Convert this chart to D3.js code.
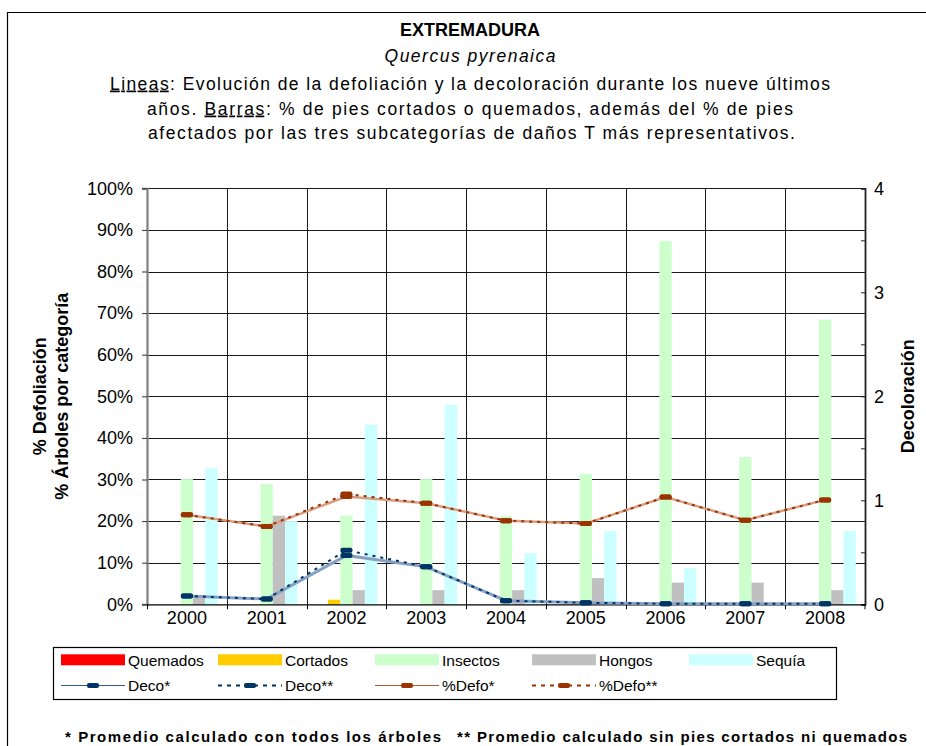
<!DOCTYPE html>
<html lang="es">
<head>
<meta charset="UTF-8">
<title>Extremadura - Quercus pyrenaica</title>
<style>
    body { margin: 0; background: #fff; }
    svg { font-family: "Liberation Sans", Arial, sans-serif; }
    .grid line { stroke: #1a1a1a; stroke-width: 1px; shape-rendering: crispEdges; }
    .axis text { font-size: 18px; fill: #000; }
    .legend text { font-size: 15.5px; fill: #000; }
</style>
</head>
<body>
<div id="chart"></div>
<script src="https://d3js.org/d3.v7.min.js"></script>
<script>
    "use strict";

    // years on the category axis
    var years = ["2000", "2001", "2002", "2003", "2004", "2005", "2006", "2007", "2008"];

    // bars (% of trees), left axis
    var seriesNames = ["Quemados", "Cortados", "Insectos", "Hongos", "Sequía"];
    var quemados = [0, 0, 0, 0, 0, 0, 0, 0, 0];
    var cortados = [0, 0, 1.1, 0, 0, 0, 0, 0, 0];
    var insectos = [30.1, 28.9, 21.3, 30.1, 21.2, 31.3, 87.3, 35.4, 68.4];
    var hongos = [2.2, 21.3, 3.4, 3.4, 3.4, 6.3, 5.2, 5.2, 3.4];
    var sequia = [32.8, 20.0, 43.2, 48.0, 12.3, 17.6, 8.7, 0, 17.6];

    // lines: defoliation (left axis, %) and decoloration (right axis, 0-4)
    var defo1 = [21.5, 18.7, 25.9, 24.3, 20.1, 19.4, 25.8, 20.2, 25.1];
    var defo2 = [21.5, 18.7, 26.5, 24.3, 20.1, 19.4, 25.8, 20.2, 25.1];
    var deco1 = [0.08, 0.05, 0.47, 0.36, 0.035, 0.015, 0.005, 0.005, 0.005];
    var deco2 = [0.08, 0.05, 0.52, 0.36, 0.035, 0.015, 0.005, 0.005, 0.005];

    var leftTicks = [0, 10, 20, 30, 40, 50, 60, 70, 80, 90, 100];
    var rightTicks = [0, 0.5, 1, 1.5, 2, 2.5, 3, 3.5, 4];

    var barValues = [quemados, cortados, insectos, hongos, sequia];
    var barColors = ["#ff0000", "#ffcc00", "#ccffcc", "#c0c0c0", "#ccffff"];

    var W = 926, H = 746;
    var pLeft = 147, pRight = 865, pTop = 188.3, pBottom = 604.3;

    var svg = d3.select("#chart").append("svg")
        .attr("width", W)
        .attr("height", H);

    // outer frame (only left and top edges are inside the picture)
    svg.append("path")
        .attr("d", "M7.5," + H + "V12.5H" + W)
        .attr("fill", "none")
        .attr("stroke", "#000")
        .attr("stroke-width", 1.2);

    var x = d3.scaleBand().domain(years).range([pLeft, pRight]).padding(0);
    var xs = d3.scaleBand().domain(seriesNames).range([0, x.bandwidth()])
        .paddingInner(0).paddingOuter(0.75);
    var y = d3.scaleLinear().domain([0, 100]).range([pBottom, pTop]);
    var yR = d3.scaleLinear().domain([0, 4]).range([pBottom, pTop]);

    // gridlines
    var grid = svg.append("g").attr("class", "grid");
    grid.selectAll(".h").data(leftTicks.slice(1)).enter().append("line")
        .attr("x1", pLeft).attr("x2", pRight)
        .attr("y1", function (d) { return Math.round(y(d)) + 0.5; })
        .attr("y2", function (d) { return Math.round(y(d)) + 0.5; });
    grid.selectAll(".v").data(years.slice(1)).enter().append("line")
        .attr("x1", function (d) { return Math.round(x(d)) + 0.5; })
        .attr("x2", function (d) { return Math.round(x(d)) + 0.5; })
        .attr("y1", pTop).attr("y2", pBottom);

    // bars
    seriesNames.forEach(function (name, si) {
        svg.append("g").selectAll("rect")
            .data(barValues[si].map(function (v, i) { return { year: years[i], v: v }; }))
            .enter().append("rect")
            .attr("x", function (d) { return x(d.year) + xs(name); })
            .attr("width", xs.bandwidth())
            .attr("y", function (d) { return y(d.v); })
            .attr("height", function (d) { return y(0) - y(d.v); })
            .attr("fill", barColors[si]);
    });

    // axes
    var yAxis = svg.append("g").attr("class", "axis")
        .attr("transform", "translate(" + pLeft + ",0)")
        .call(d3.axisLeft(y).tickValues(leftTicks).tickFormat(function (d) { return d + "%"; })
            .tickSize(5).tickPadding(9));
    yAxis.select(".domain").attr("stroke", "#808080").attr("stroke-width", 2.2);
    yAxis.selectAll(".tick line").attr("stroke", "#333");

    var yAxisR = svg.append("g").attr("class", "axis")
        .attr("transform", "translate(" + pRight + ",0)")
        .call(d3.axisRight(yR).tickValues(rightTicks)
            .tickFormat(function (d) { return d % 1 === 0 ? d : ""; })
            .tickSize(-4).tickPadding(9));
    yAxisR.select(".domain").attr("stroke", "#222").attr("stroke-width", 1.8);
    yAxisR.selectAll(".tick line").attr("stroke", "#222");

    var xAxis = svg.append("g").attr("class", "axis")
        .attr("transform", "translate(0," + pBottom + ")")
        .call(d3.axisBottom(x).tickSize(0).tickPadding(20));
    xAxis.select(".domain").attr("stroke", "#000").attr("stroke-width", 1.2);
    xAxis.selectAll(".tick text").attr("dy", "0");
    // tick marks between categories
    xAxis.selectAll(".sep").data(years.concat(["end"])).enter().append("line")
        .attr("x1", function (d) { return d === "end" ? pRight : Math.round(x(d)) + 0.5; })
        .attr("x2", function (d) { return d === "end" ? pRight : Math.round(x(d)) + 0.5; })
        .attr("y1", 0).attr("y2", 5)
        .attr("stroke", "#000");

    // lines
    function cx(i) { return x(years[i]) + x.bandwidth() / 2; }
    var lineL = d3.line().x(function (d, i) { return cx(i); }).y(function (d) { return y(d); });
    var lineR = d3.line().x(function (d, i) { return cx(i); }).y(function (d) { return yR(d); });

    var lineSeries = [
        { name: "Deco*", data: deco1, gen: lineR, stroke: "#86a1c4", width: 3, dash: null, mark: "#003366" },
        { name: "Deco**", data: deco2, gen: lineR, stroke: "#003366", width: 2, dash: "3,5", mark: "#003366" },
        { name: "%Defo*", data: defo1, gen: lineL, stroke: "#dc9e82", width: 2.5, dash: null, mark: "#993300" },
        { name: "%Defo**", data: defo2, gen: lineL, stroke: "#993300", width: 2, dash: "3,5", mark: "#993300" }
    ];

    lineSeries.forEach(function (s) {
        svg.append("path")
            .attr("d", s.gen(s.data))
            .attr("fill", "none")
            .attr("stroke", s.stroke)
            .attr("stroke-width", s.width)
            .attr("stroke-dasharray", s.dash);
    });
    lineSeries.forEach(function (s) {
        var yy = s.gen === lineR ? yR : y;
        svg.append("g").selectAll("rect").data(s.data).enter().append("rect")
            .attr("x", function (d, i) { return cx(i) - 6; })
            .attr("y", function (d) { return yy(d) - 2.5; })
            .attr("width", 12).attr("height", 5).attr("rx", 2)
            .attr("fill", s.mark);
    });

    // axis titles
    var midY = (pTop + pBottom) / 2;
    svg.append("text")
        .attr("transform", "translate(45.5," + midY + ") rotate(-90)")
        .attr("text-anchor", "middle")
        .style("font-size", "18px").style("font-weight", "bold")
        .text("% Defoliación");
    svg.append("text")
        .attr("transform", "translate(67.5," + midY + ") rotate(-90)")
        .attr("text-anchor", "middle")
        .style("font-size", "18px").style("font-weight", "bold")
        .text("% Árboles por categoría");
    svg.append("text")
        .attr("transform", "translate(914," + midY + ") rotate(-90)")
        .attr("text-anchor", "middle")
        .style("font-size", "18px").style("font-weight", "bold")
        .text("Decoloración");

    // titles
    var cxT = 470;
    svg.append("text").attr("x", cxT).attr("y", 36).attr("text-anchor", "middle")
        .style("font-size", "18px").style("font-weight", "bold").text("EXTREMADURA");
    svg.append("text").attr("x", cxT).attr("y", 62).attr("text-anchor", "middle")
        .attr("textLength", 171).attr("lengthAdjust", "spacing")
        .style("font-size", "17.5px").style("font-style", "italic").text("Quercus pyrenaica");

    var t1 = svg.append("text").attr("x", 110).attr("y", 89.5)
        .attr("textLength", 720).attr("lengthAdjust", "spacing").style("font-size", "17.5px");
    t1.append("tspan").attr("text-decoration", "underline").text("Lineas");
    t1.append("tspan").text(": Evolución de la defoliación y la decoloración durante los nueve últimos");

    var t2 = svg.append("text").attr("x", 147).attr("y", 114.5)
        .attr("textLength", 646).attr("lengthAdjust", "spacing").style("font-size", "17.5px");
    t2.append("tspan").text("años. ");
    t2.append("tspan").attr("text-decoration", "underline").text("Barras");
    t2.append("tspan").text(": % de pies cortados o quemados, además del % de pies");

    svg.append("text").attr("x", 148).attr("y", 138.5)
        .attr("textLength", 647).attr("lengthAdjust", "spacing").style("font-size", "17.5px")
        .text("afectados por las tres subcategorías de daños T más representativos.");

    // legend
    var lg = svg.append("g").attr("class", "legend");
    lg.append("rect").attr("x", 53.5).attr("y", 647.5).attr("width", 783).attr("height", 52)
        .attr("fill", "#fff").attr("stroke", "#000").attr("stroke-width", 1.2);
    var colX = d3.scalePoint().domain(d3.range(5)).range([61, 689]);
    seriesNames.forEach(function (name, i) {
        lg.append("rect").attr("x", colX(i)).attr("y", 654.3).attr("width", 64).attr("height", 11)
            .attr("fill", barColors[i]);
        lg.append("text").attr("x", colX(i) + 67).attr("y", 665.5).text(name);
    });
    lineSeries.forEach(function (s, i) {
        var lx = colX(i);
        lg.append("line").attr("x1", lx).attr("x2", lx + 64).attr("y1", 685.5).attr("y2", 685.5)
            .attr("stroke", s.dash ? s.stroke : s.mark).attr("stroke-width", s.dash ? 2 : 1.2)
            .attr("stroke-dasharray", s.dash ? "4,5" : null).attr("opacity", s.dash ? 1 : 0.8);
        lg.append("rect").attr("x", lx + 26).attr("y", 683).attr("width", 12).attr("height", 5)
            .attr("rx", 2).attr("fill", s.mark);
        lg.append("text").attr("x", lx + 67).attr("y", 690.5).text(s.name);
    });

    // footnote
    svg.append("text").attr("x", 65).attr("y", 742)
        .attr("textLength", 376).attr("lengthAdjust", "spacing")
        .style("font-size", "15px").style("font-weight", "bold")
        .text("* Promedio calculado con todos los árboles");
    svg.append("text").attr("x", 457).attr("y", 742)
        .attr("textLength", 450).attr("lengthAdjust", "spacing")
        .style("font-size", "15px").style("font-weight", "bold")
        .text("** Promedio calculado sin pies cortados ni quemados");
</script>
</body>
</html>
